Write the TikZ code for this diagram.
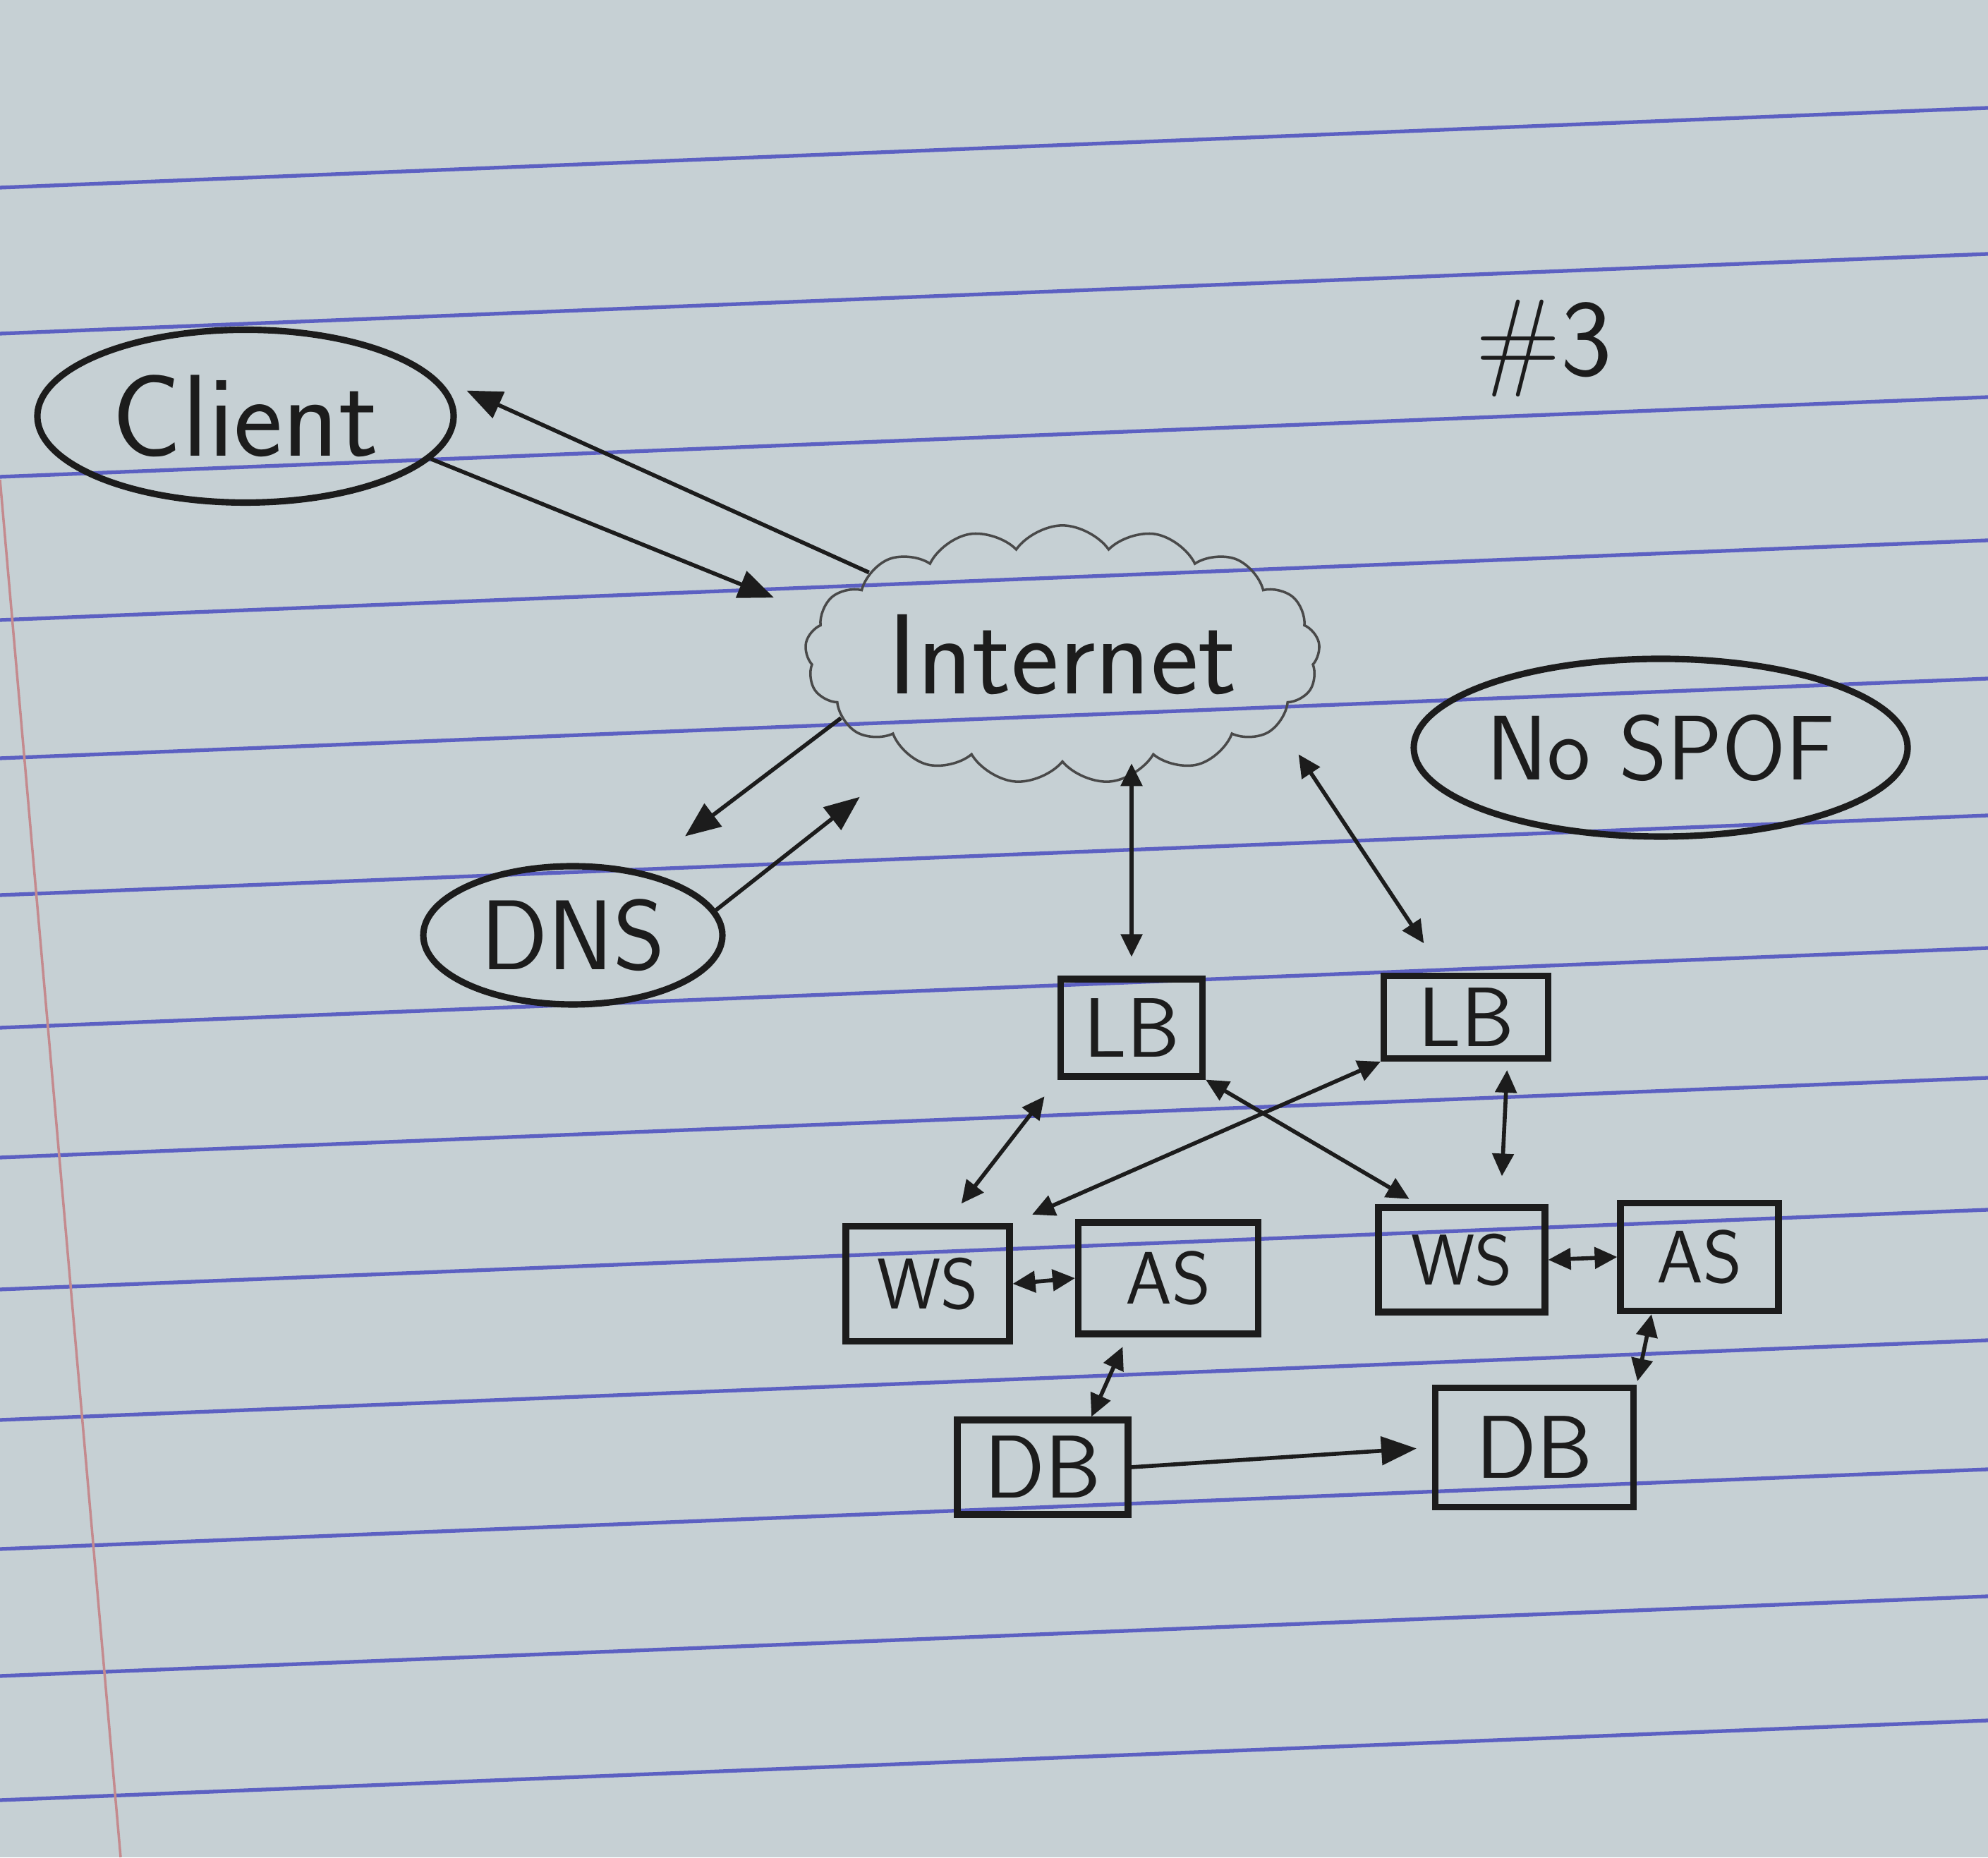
\documentclass[tikz,border=0pt]{standalone}
\usepackage{fontspec}
\usepackage{tikz}
\usetikzlibrary{shapes.geometric,shapes.symbols,arrows.meta}
\definecolor{paper}{HTML}{C6D0D4}
\definecolor{rule}{HTML}{5C60C2}
\definecolor{margin}{HTML}{C48A8E}
\definecolor{ink}{HTML}{1C1C1C}

\begin{document}
\begin{tikzpicture}[
  oval/.style={ellipse,draw=ink,line width=2.6pt,inner sep=0pt,text=ink},
  box/.style={rectangle,draw=ink,line width=2.6pt,inner sep=0pt,text=ink},
  big/.style={font=\sffamily\fontsize{#1}{#1}\selectfont},
  link/.style={draw=ink,line width=1.6pt},
  tip/.style={-{Triangle[length=0.5cm,width=0.4cm]}},
  both/.style={{Triangle[length=0.32cm,width=0.3cm]}-{Triangle[length=0.32cm,width=0.3cm]}}]
\useasboundingbox (0,0) rectangle (28.18,26.33);
\fill[paper] (0,0) rectangle (28.18,26.33);
\foreach \y in {23.67,21.60,19.57,17.54,15.58,13.64,11.76,9.92,8.05,6.20,4.37,2.57,0.81}
  \draw[rule,line width=1.5pt] (0,\y) -- (28.18,\y+1.13);
\draw[margin,line width=1pt] (0,19.53) -- (1.71,0);

\node[text=ink,big=44] (num) at (21.88,21.39) {\#3};
\node[oval,big=47,minimum width=5.9cm,minimum height=2.45cm] (client) at (3.48,20.43) {Client};
\node[cloud,draw=ink!80,line width=1pt,cloud puffs=17,cloud puff arc=110,aspect=2.3,
  minimum width=7.3cm,minimum height=3.1cm,inner sep=0pt,text=ink,big=46] (internet) at (15.06,17.05) {Internet};
\node[oval,big=40,minimum width=4.24cm,minimum height=1.96cm] (dns) at (8.12,13.07) {DNS};
\node[oval,big=37,minimum width=7.0cm,minimum height=2.52cm] (spof) at (23.54,15.73) {No SPOF};
\node[box,big=34,minimum width=2.01cm,minimum height=1.38cm] (lb1) at (16.04,11.76) {LB};
\node[box,big=34,minimum width=2.33cm,minimum height=1.17cm] (lb2) at (20.78,11.91) {LB};
\node[box,big=29,minimum width=2.32cm,minimum height=1.63cm] (ws1) at (13.15,8.13) {WS};
\node[box,big=30,minimum width=2.55cm,minimum height=1.58cm] (as1) at (16.56,8.21) {AS};
\node[box,big=29,minimum width=2.36cm,minimum height=1.48cm] (ws2) at (20.72,8.47) {WS};
\node[box,big=30,minimum width=2.24cm,minimum height=1.53cm] (as2) at (24.09,8.51) {AS};
\node[box,big=36,minimum width=2.42cm,minimum height=1.34cm] (db1) at (14.78,5.53) {DB};
\node[box,big=36,minimum width=2.81cm,minimum height=1.69cm] (db2) at (21.75,5.81) {DB};

\draw[link,tip,shorten >=0.7cm] (client.-13) -- (internet.171);
\draw[link,tip,shorten >=0.5cm] (internet.157) -- (client.12);
\draw[link,tip,shorten >=0.8cm] (internet.196) -- (dns.44);
\draw[link,tip,shorten >=0.9cm] (dns.10) -- (internet.214);
\draw[link,both,shorten >=0.27cm] (lb1.north |- internet.south) -- (lb1.north);
\draw[link,both,shorten <=0.5cm,shorten >=0.5cm] (internet.-18) -- (lb2.117);
\draw[link,both,shorten <=0.3cm,shorten >=0.35cm] (lb1.south west) -- (ws1.73);
\draw[link,both,shorten >=0.3cm] (lb2.south west) -- (ws1.north east);
\draw[link,both,shorten >=0.15cm] (lb1.south east) -- (ws2.128);
\draw[link,both,shorten <=0.12cm,shorten >=0.4cm] (lb2.-47) -- (ws2.55);
\draw[link,both] (ws1.east) -- (as1.west);
\draw[link,both] (ws2.east) -- (as2.west);
\draw[link,both,shorten <=0.15cm] (as1.235) -- (db1.46);
\draw[link,both,shorten >=0.05cm] (as2.230) -- (db2.north east);
\draw[link,tip,shorten >=0.22cm] (db1.east) -- (db2.west);
\end{tikzpicture}
\end{document}
